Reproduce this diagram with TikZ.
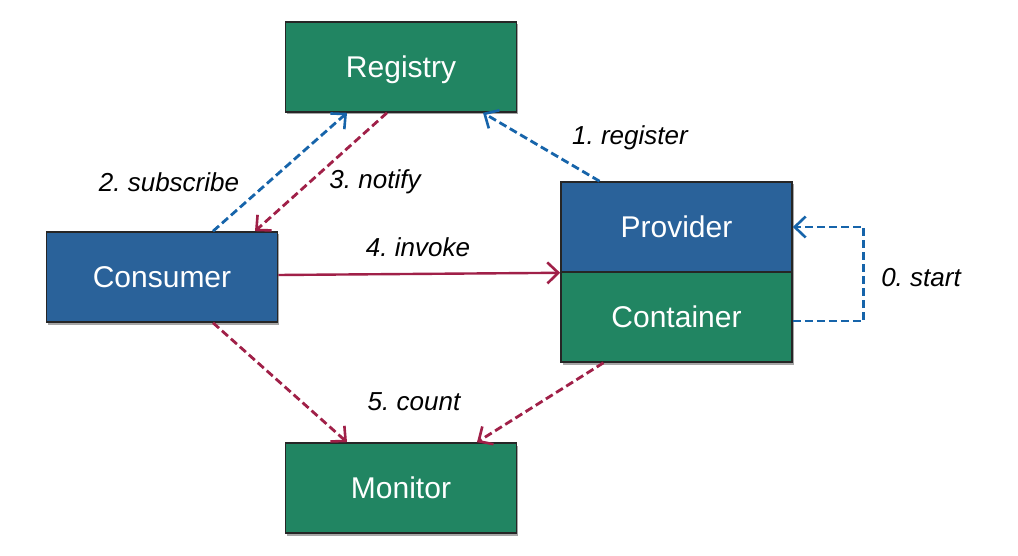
\documentclass[tikz,border=0pt]{standalone}
\usepackage{fontspec}
\setmainfont{Liberation Sans}
\usetikzlibrary{arrows.meta,shadows}
\frenchspacing
\definecolor{boxgreen}{RGB}{33,133,98}
\definecolor{boxblue}{RGB}{42,98,154}
\definecolor{linered}{RGB}{160,32,72}
\definecolor{lineblue}{RGB}{22,100,170}
\tikzset{
  box/.style={draw=black!85, line width=1.6pt, minimum width=231pt, minimum height=90pt,
    inner sep=0pt, text=white, font=\fontsize{30}{34}\selectfont,
    text height=21.5pt, text depth=0pt,
    drop shadow={shadow xshift=1.5pt, shadow yshift=-2.5pt, opacity=0.35, fill=black}},
  gbox/.style={box, fill=boxgreen},
  bbox/.style={box, fill=boxblue},
  lbl/.style={font=\fontsize{26}{30}\selectfont\itshape, text=black, inner sep=0pt},
  conn/.style={line width=2.8pt, -{Straight Barb[length=11pt,width=21pt,line width=2.6pt]}},
  bluedash/.style={conn, draw=lineblue, dash pattern=on 8pt off 4pt},
  reddash/.style={conn, draw=linered, dash pattern=on 8pt off 4pt},
  redsolid/.style={conn, draw=linered, line width=2.4pt}
}
\begin{document}
\begin{tikzpicture}[x=1pt,y=-1pt]
\useasboundingbox (0,0) rectangle (1018,556);
\fill[white] (0,0) rectangle (1018,556);

\node[gbox] (reg) at (401,67) {Registry};
\node[bbox] (cons) at (162,277) {Consumer};
\node[bbox] (prov) at (676.5,227) {Provider};
\node[gbox] (cont) at (676.5,317) {Container};
\node[gbox] (mon) at (401,488) {Monitor};

\node[lbl] (lsub) at (169,182) {2. subscribe};
\node[lbl] (lnot) at (375,182) {3. notify};
\node[lbl] (lreg) at (630,138) {1. register};
\node[lbl] (linv) at (418,247) {4. invoke};
\node[lbl] (lsta) at (921,278) {0. start};
\node[lbl] (lcnt) at (414,402) {5. count};

\draw[bluedash] ([xshift=51pt]cons.north) -- ([xshift=-54pt]reg.south);
\draw[reddash] ([xshift=-14pt]reg.south) -- ([xshift=93pt]cons.north);
\draw[bluedash] ([xshift=-77pt]prov.north) -- ([xshift=82pt]reg.south);
\draw[redsolid] ([yshift=2pt]cons.east) -- (prov.south west);
\draw[bluedash] ([yshift=-4pt]cont.east) -- ++(71,0) |- (prov.east);
\draw[reddash] ([xshift=51pt]cons.south) -- ([xshift=-54pt]mon.north);
\draw[reddash] ([xshift=-73pt]cont.south) -- ([xshift=76pt]mon.north);
\end{tikzpicture}
\end{document}
